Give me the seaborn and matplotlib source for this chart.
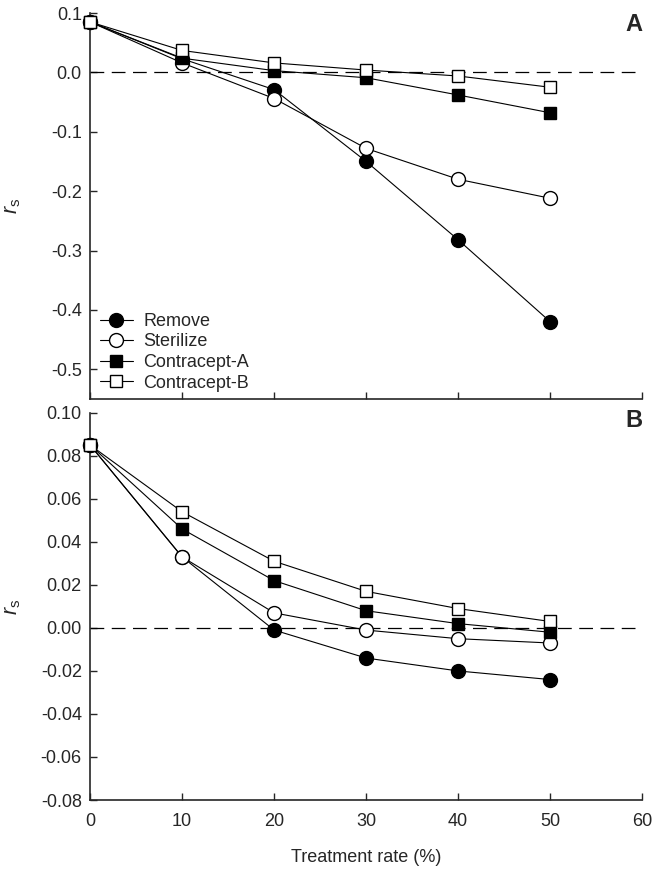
import numpy as np
import pandas as pd
import matplotlib
matplotlib.use('Agg')
import matplotlib.pyplot as plt
import seaborn as sns

# treatment rate (%)
rate = [0, 10, 20, 30, 40, 50]

# panel A values
a_remove = [0.085, 0.023, -0.029, -0.150, -0.282, -0.420]
a_sterilize = [0.085, 0.016, -0.044, -0.128, -0.180, -0.212]
a_contra_a = [0.085, 0.024, 0.003, -0.009, -0.038, -0.068]
a_contra_b = [0.085, 0.037, 0.016, 0.004, -0.006, -0.025]

# panel B values
b_remove = [0.085, 0.033, -0.001, -0.014, -0.020, -0.024]
b_sterilize = [0.085, 0.033, 0.007, -0.001, -0.005, -0.007]
b_contra_a = [0.085, 0.046, 0.022, 0.008, 0.002, -0.002]
b_contra_b = [0.085, 0.054, 0.031, 0.017, 0.009, 0.003]

a_yticks = [-0.5, -0.4, -0.3, -0.2, -0.1, 0.0, 0.1]
b_yticks = [-0.08, -0.06, -0.04, -0.02, 0.0, 0.02, 0.04, 0.06, 0.08, 0.10]

labels = ['Remove', 'Sterilize', 'Contracept-A', 'Contracept-B']
markers = ['o', 'o', 's', 's']
faces = ['black', 'white', 'black', 'white']
msizes = [10, 10, 9, 9]

sns.set_style('ticks')
plt.rcParams['font.family'] = ['Liberation Sans', 'DejaVu Sans']
plt.rcParams['axes.unicode_minus'] = False
plt.rcParams['mathtext.fontset'] = 'custom'
plt.rcParams['mathtext.it'] = 'Liberation Sans:italic'
plt.rcParams['mathtext.rm'] = 'Liberation Sans'

fig = plt.figure(figsize=(6.58, 8.71), dpi=100)
ax1 = fig.add_axes([0.137, 0.542, 0.839, 0.443])
ax2 = fig.add_axes([0.137, 0.0815, 0.839, 0.4445])

panels = [
    (ax1, [a_remove, a_sterilize, a_contra_a, a_contra_b]),
    (ax2, [b_remove, b_sterilize, b_contra_a, b_contra_b]),
]

for ax, series in panels:
    ax.axhline(0, color='black', lw=0.9, ls=(0, (11, 6)), zorder=1)
    for vals, lab, mk, fc, ms in zip(series, labels, markers, faces, msizes):
        df = pd.DataFrame({'rate': rate, 'rs': vals})
        sns.lineplot(data=df, x='rate', y='rs', ax=ax, color='black', lw=0.8,
                     marker=mk, markersize=ms, markerfacecolor=fc,
                     markeredgecolor='black', markeredgewidth=1.0,
                     label=lab, clip_on=False, zorder=3)
    ax.set_xlim(0, 60)
    ax.set_xticks([0, 10, 20, 30, 40, 50, 60])
    for s in ['top', 'right']:
        ax.spines[s].set_visible(False)
    for s in ['left', 'bottom']:
        ax.spines[s].set_linewidth(1.2)
    ax.tick_params(direction='in', length=5, width=1.0, labelsize=13)
    ax.tick_params(axis='y', pad=6)
    ax.tick_params(axis='x', pad=9)
    ax.set_ylabel(r'$r_{\rm s}$', fontsize=15.5)
    ax.yaxis.set_label_coords(-0.122, 0.5)
    ax.set_xlabel('')

ax1.set_ylim(-0.55, 0.1)
ax1.set_yticks(a_yticks)
ax1.yaxis.set_major_formatter(matplotlib.ticker.FormatStrFormatter('%.1f'))
ax1.tick_params(axis='x', labelbottom=False)
ax1.legend(loc='lower left', frameon=False, fontsize=13, handlelength=1.8,
           handletextpad=0.6, labelspacing=0.2, borderaxespad=0.0,
           bbox_to_anchor=(0.005, 0.0))

ax2.set_ylim(-0.08, 0.10)
ax2.set_yticks(b_yticks)
ax2.yaxis.set_major_formatter(matplotlib.ticker.FormatStrFormatter('%.2f'))
ax2.legend().remove()
ax2.set_xlabel('Treatment rate (%)', fontsize=13, labelpad=14)

ax1.text(1.0, 1.0, 'A', transform=ax1.transAxes, ha='right', va='top',
         fontsize=17, fontweight='bold')
ax2.text(1.0, 1.01, 'B', transform=ax2.transAxes, ha='right', va='top',
         fontsize=17, fontweight='bold')

fig.savefig('out.png', dpi=100)
